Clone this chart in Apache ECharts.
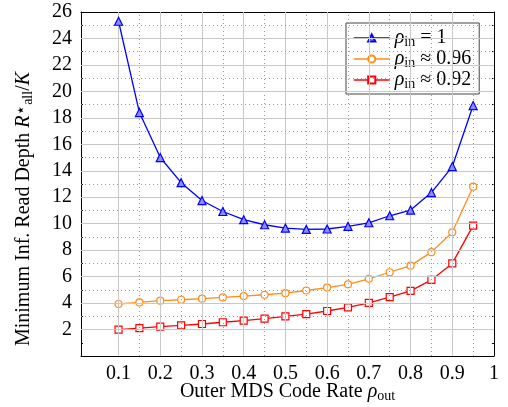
<!DOCTYPE html>
<html><head><meta charset="utf-8">
<script src="https://cdn.jsdelivr.net/npm/echarts@6/dist/echarts.min.js"></script>
<style>html,body{margin:0;padding:0;background:#fff}#c{width:508px;height:407px}</style>
</head><body><div id="c"></div>
<script>
const xVals = [0.1,0.15,0.2,0.25,0.3,0.35,0.4,0.45,0.5,0.55,0.6,0.65,0.7,0.75,0.8,0.85,0.9,0.95];
const blueVals = [25.3,18.4,15.0,13.1,11.75,10.92,10.3,9.92,9.67,9.57,9.6,9.8,10.07,10.6,11.03,12.35,14.32,18.93];
const orangeVals = [3.93,4.05,4.18,4.25,4.33,4.43,4.53,4.63,4.75,4.95,5.17,5.42,5.83,6.33,6.83,7.85,9.35,12.8];
const redVals = [2.0,2.1,2.22,2.32,2.42,2.55,2.67,2.82,3.0,3.17,3.4,3.67,4.02,4.45,4.92,5.75,7.0,9.85];
const xTicks = [0.1,0.2,0.3,0.4,0.5,0.6,0.7,0.8,0.9,1];
const xMinor = [0.15,0.25,0.35,0.45,0.55,0.65,0.75,0.85,0.95];
const yTicks = [2,4,6,8,10,12,14,16,18,20,22,24];
const yMinor = [3,5,7,9,11,13,15,17,19,21,23,25];
const seriesNames = ['rho1','rho096','rho092'];
const seriesColors = ['#0000ff','#ff8c1a','#ff0000'];
const legendLabels = ['{it|ρ}{sub|in}{t| = 1}','{it|ρ}{sub|in}{t| ≈ 0.96}','{it|ρ}{sub|in}{t| ≈ 0.92}'];

const FONT = 'Liberation Serif';
const chart = echarts.init(document.getElementById('c'));
const pair = (ys) => xVals.map((x, i) => [x, ys[i]]);
const grid = [];
xTicks.slice(0, -1).forEach(v => grid.push({xAxis: v, lineStyle: {color: '#c8c8c8', width: 1, type: 'solid'}}));
xMinor.forEach(v => grid.push({xAxis: v, lineStyle: {color: '#9a9a9a', width: 1, type: [1, 3]}}));
yTicks.forEach(v => grid.push({yAxis: v, lineStyle: {color: '#c8c8c8', width: 1, type: 'solid'}}));
yMinor.forEach(v => grid.push({yAxis: v, lineStyle: {color: '#9a9a9a', width: 1, type: [1, 3]}}));

const axisCommon = {
  type: 'value',
  axisLine: {show: true, onZero: false, lineStyle: {color: '#000', width: 1}},
  splitLine: {show: false},
};
const rich = (fs) => ({
  t: {fontFamily: FONT, fontSize: fs, lineHeight: 22, color: '#000'},
  it: {fontFamily: FONT, fontStyle: 'italic', fontSize: fs, lineHeight: 22, color: '#000'},
  sub: {fontFamily: FONT, fontSize: Math.round(fs * 0.68), verticalAlign: 'bottom', lineHeight: 13, color: '#000'},
  sup: {fontFamily: 'DejaVu Sans', fontSize: Math.round(fs * 0.85), verticalAlign: 'top', lineHeight: 14, color: '#000'},
});
chart.setOption({
  animation: false,
  grid: {left: 81, right: 14, top: 12, bottom: 51, containLabel: false, outerBoundsMode: 'none'},
  legend: {
    data: seriesNames.map((n, i) => ({name: n, lineStyle: {color: seriesColors[i], width: 1.5}})),
    orient: 'vertical', left: 346, top: 23,
    padding: [5, 8, 3, 7], itemGap: 0, itemWidth: 36, itemHeight: 9,
    backgroundColor: '#fff', borderColor: '#444', borderWidth: 1,
    textStyle: {fontFamily: FONT, fontSize: 20, color: '#000', rich: rich(20)},
    formatter: n => legendLabels[seriesNames.indexOf(n)]
  },
  xAxis: [
    Object.assign({}, axisCommon, {
      position: 'bottom', min: 0.01, max: 1,
      name: '{t|Outer MDS Code Rate }{it|ρ}{sub|out}', nameLocation: 'middle', nameGap: 25, nameMoveOverlap: false,
      nameTextStyle: {fontFamily: FONT, fontSize: 20, color: '#000', lineHeight: 22, rich: rich(20)},
      axisTick: {show: true, inside: true, length: 4, customValues: xTicks, lineStyle: {color: '#000'}},
      axisLabel: {customValues: xTicks, fontFamily: FONT, fontSize: 20, color: '#000', margin: 8,
        formatter: v => String(Math.round(v * 100) / 100)}
    }),
    Object.assign({}, axisCommon, {
      position: 'top', min: 0.01, max: 1,
      axisTick: {show: true, inside: true, length: 4, customValues: xTicks, lineStyle: {color: '#000'}},
      axisLabel: {show: false}
    })
  ],
  yAxis: [
    Object.assign({}, axisCommon, {
      position: 'left', min: 0, max: 26, interval: 2,
      name: '{t|Minimum Inf. Read Depth }{it|R}{sup|⋆}{sub|all}{t|/}{it|K}', nameLocation: 'middle', nameGap: 46, nameRotate: 90,
      nameTextStyle: {fontFamily: FONT, fontSize: 20, color: '#000', lineHeight: 22, rich: rich(20), padding: [0, 50, 0, 0]},
      axisTick: {show: true, inside: true, length: 4, lineStyle: {color: '#000'}},
      minorTick: {show: true, splitNumber: 2, length: 2, lineStyle: {color: '#000'}},
      axisLabel: {fontFamily: FONT, fontSize: 20, color: '#000', margin: 9,
        formatter: v => v === 0 ? '' : String(v)}
    }),
    Object.assign({}, axisCommon, {
      position: 'right', min: 0, max: 26, interval: 2,
      axisTick: {show: true, inside: true, length: 4, lineStyle: {color: '#000'}},
      minorTick: {show: true, splitNumber: 2, length: 2, lineStyle: {color: '#000'}},
      axisLabel: {show: false}
    })
  ],
  series: [
    {type: 'line', name: 'grid', data: [], z: 1, silent: true,
     markLine: {silent: true, symbol: 'none', label: {show: false}, animation: false, data: grid}},
    {type: 'line', name: seriesNames[0], data: pair(blueVals), z: 5, color: seriesColors[0],
     symbol: 'triangle', symbolSize: 8, showAllSymbol: true,
     lineStyle: {color: seriesColors[0], width: 1.3},
     itemStyle: {color: '#8c8cff', borderColor: seriesColors[0], borderWidth: 1.2}},
    {type: 'line', name: seriesNames[1], data: pair(orangeVals), z: 4, color: seriesColors[1],
     symbol: 'circle', symbolSize: 7, showAllSymbol: true,
     lineStyle: {color: seriesColors[1], width: 1.3},
     itemStyle: {color: '#fff', borderColor: seriesColors[1], borderWidth: 1.2}},
    {type: 'line', name: seriesNames[2], data: pair(redVals), z: 4, color: seriesColors[2],
     symbol: 'rect', symbolSize: 7, showAllSymbol: true,
     lineStyle: {color: seriesColors[2], width: 1.3},
     itemStyle: {color: '#fff', borderColor: seriesColors[2], borderWidth: 1.2}}
  ]
});
</script></body></html>
